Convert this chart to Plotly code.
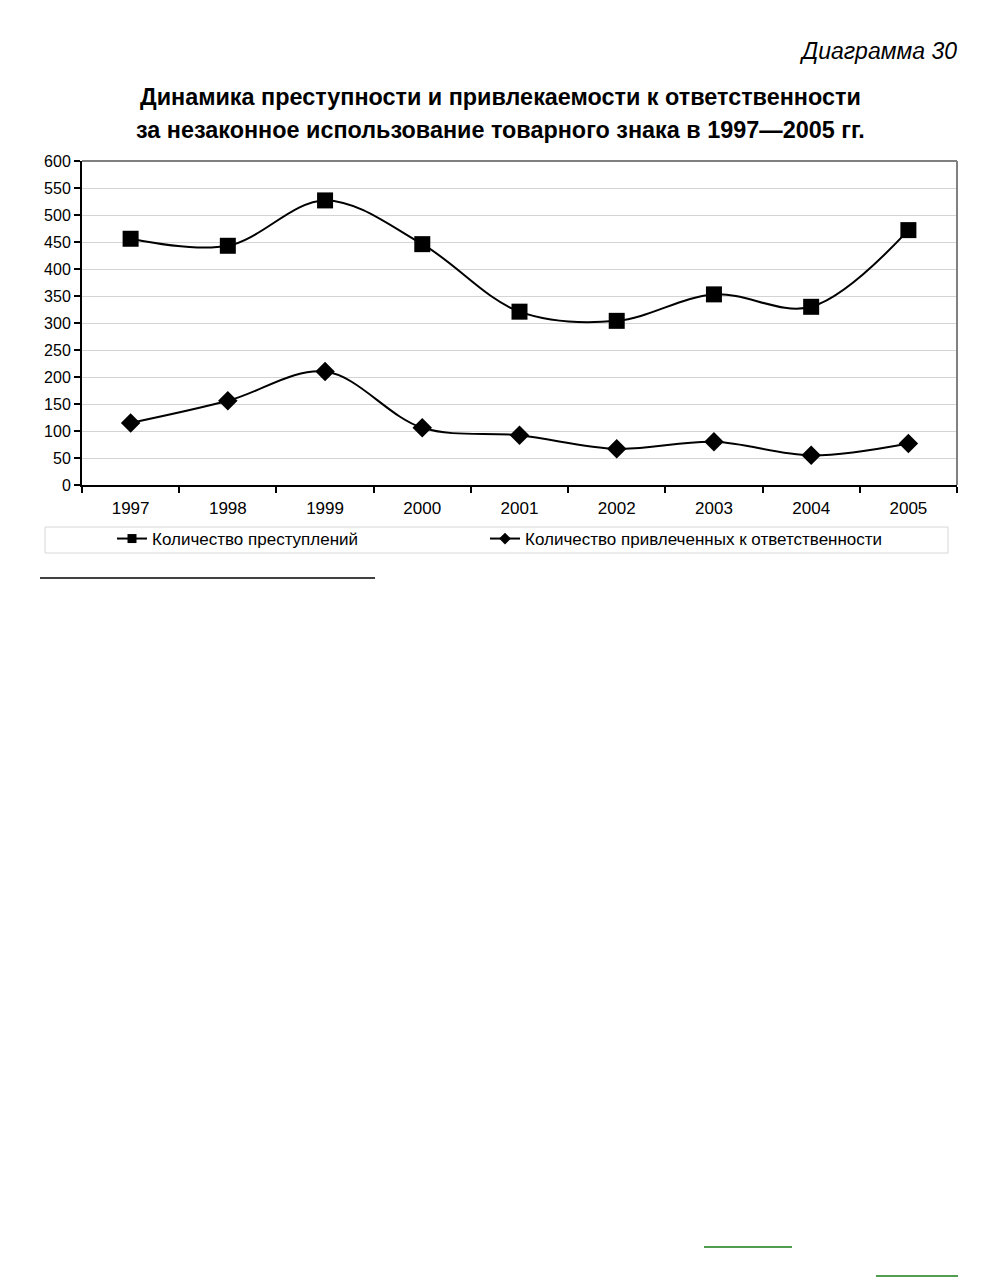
import plotly.graph_objects as go

years = ["1997", "1998", "1999", "2000", "2001", "2002", "2003", "2004", "2005"]
crimes = [456, 443, 527, 446, 321, 304, 353, 330, 472]
persons = [115, 156, 210, 106, 92, 67, 80, 55, 77]
y_ticks = list(range(0, 601, 50))
names = ["Количество преступлений", "Количество привлеченных к ответственности"]

FONT = "Liberation Sans"

fig = go.Figure()
fig.add_trace(go.Scatter(
    x=years, y=crimes, name=names[0], showlegend=False,
    mode="lines+markers", line=dict(color="black", width=2, shape="spline", smoothing=1.0),
    marker=dict(symbol="square", size=16, color="black"),
))
fig.add_trace(go.Scatter(
    x=years, y=persons, name=names[1], showlegend=False,
    mode="lines+markers", line=dict(color="black", width=2, shape="spline", smoothing=1.0),
    marker=dict(symbol="diamond", size=15, color="black"),
))
# legend entries with smaller markers, as in the original
fig.add_trace(go.Scatter(
    x=[None], y=[None], name=names[0], mode="lines+markers", legend="legend",
    line=dict(color="black", width=2), marker=dict(symbol="square", size=9, color="black"),
))
fig.add_trace(go.Scatter(
    x=[None], y=[None], name=names[1], mode="lines+markers", legend="legend2",
    line=dict(color="black", width=2), marker=dict(symbol="diamond", size=9, color="black"),
))

OFF = 8  # page body margin
W, H = 1002 - 2 * OFF, 1278 - OFF
L = 82 - OFF
T = 161 - OFF
R = W - (957 - OFF)
B = H - (485 - OFF)
pw = W - L - R
ph = H - T - B

def px(x):
    return (x - OFF - L) / pw

def py(y):
    return (H - B - (y - OFF)) / ph

shapes = [
    dict(type="line", xref="paper", yref="paper", x0=0, x1=1, y0=1, y1=1,
         line=dict(color="#808080", width=2)),
    dict(type="line", xref="paper", yref="paper", x0=1, x1=1, y0=0, y1=1,
         line=dict(color="#808080", width=2)),
    dict(type="rect", xref="paper", yref="paper", x0=px(45), x1=px(948), y0=py(527), y1=py(553),
         line=dict(color="#d8d8d8", width=1), fillcolor="rgba(0,0,0,0)"),
    dict(type="line", xref="paper", yref="paper", x0=px(40), x1=px(375), y0=py(578), y1=py(578),
         line=dict(color="black", width=1.5)),
    dict(type="line", xref="paper", yref="paper", x0=px(704), x1=px(792), y0=py(1247), y1=py(1247),
         line=dict(color="#1a7d1a", width=1.5)),
    dict(type="line", xref="paper", yref="paper", x0=px(876), x1=px(958), y0=py(1276), y1=py(1276),
         line=dict(color="#1a7d1a", width=1.5)),
]

annotations = [
    dict(text="<i>Диаграмма 30</i>", xref="paper", yref="paper", x=px(959), y=py(51),
         xanchor="right", yanchor="middle", showarrow=False,
         font=dict(family=FONT, size=23, color="black")),
    dict(text="<b>Динамика преступности и привлекаемости к ответственности</b>", xref="paper", yref="paper",
         x=px(500), y=py(97), xanchor="center", yanchor="middle", showarrow=False,
         font=dict(family=FONT, size=23.4, color="black")),
    dict(text="<b>за незаконное использование товарного знака в 1997—2005 гг.</b>", xref="paper", yref="paper",
         x=px(500), y=py(130), xanchor="center", yanchor="middle", showarrow=False,
         font=dict(family=FONT, size=23.4, color="black")),
]

legend_style = dict(orientation="h", xanchor="left", yanchor="top",
                    font=dict(family=FONT, size=17, color="black"),
                    bgcolor="rgba(0,0,0,0)")

fig.update_layout(
    width=W, height=H,
    margin=dict(l=L, r=R, t=T, b=B),
    paper_bgcolor="white", plot_bgcolor="white",
    font=dict(family=FONT, size=16, color="black"),
    showlegend=True,
    legend=dict(x=px(112), y=py(521), **legend_style),
    legend2=dict(x=px(485), y=py(521), **legend_style),
    xaxis=dict(type="category", range=[-0.5, 8.5], showgrid=False, showline=True, linecolor="black",
               linewidth=2, ticks="outside", tickson="boundaries", ticklen=6, tickcolor="black",
               tickwidth=2, tickfont=dict(size=17), ticklabelstandoff=7, zeroline=False),
    yaxis=dict(range=[0, 600], tickvals=y_ticks, showgrid=True, gridcolor="#d4d4d4", gridwidth=1,
               showline=True, linecolor="black", linewidth=2, ticks="outside", ticklen=6,
               tickcolor="black", tickwidth=2, tickfont=dict(size=16), zeroline=False),
    shapes=shapes,
    annotations=annotations,
)

fig.write_html("out.html")
